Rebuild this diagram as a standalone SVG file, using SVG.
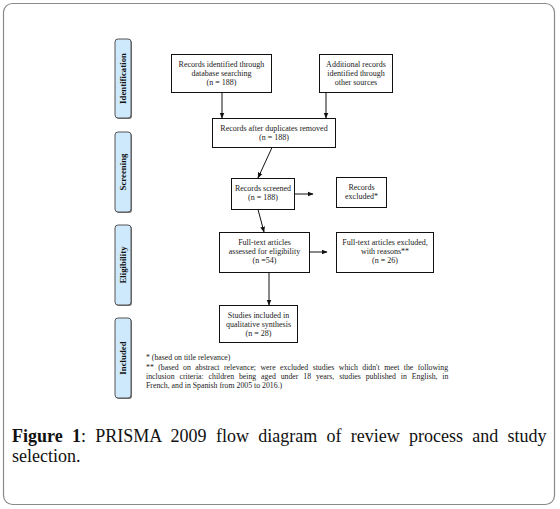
<svg xmlns="http://www.w3.org/2000/svg" width="560" height="509" viewBox="0 0 560 509">
<style>
.frame{fill:#fff;stroke:#8a8a8a;stroke-width:1.2}
.stage{fill:#cfe9fc;stroke:#555;stroke-width:1}
.stxt{font-family:"Liberation Serif",serif;font-size:8.8px;font-weight:bold;fill:#111;text-anchor:middle}
.box{fill:#fff;stroke:#111;stroke-width:1}
.t{font-family:"Liberation Serif",serif;font-size:8px;fill:#222;text-anchor:middle}
.fn{font-family:"Liberation Serif",serif;font-size:7.8px;fill:#222}
.cap{font-family:"Liberation Serif",serif;font-size:18px;fill:#111}
.c{stroke:#111;stroke-width:1;fill:none;marker-end:url(#ah)}
</style>
<defs>
<marker id="ah" viewBox="0 0 10 10" refX="9" refY="5" markerWidth="6" markerHeight="6" orient="auto" markerUnits="userSpaceOnUse">
<path d="M0,1 L10,5 L0,9 z" fill="#111"/>
</marker>
</defs>
<rect class="frame" x="3.5" y="3.5" width="551" height="501" rx="9"/>
<g id="stage-identification">
<rect x="116" y="40" width="16" height="79" rx="3" fill="#777"/>
<rect class="stage" x="115" y="39" width="16" height="79" rx="3"/>
<text class="stxt" transform="translate(126,78.5) rotate(-90)">Identification</text>
</g>
<g id="stage-screening">
<rect x="116" y="133" width="16" height="80" rx="3" fill="#777"/>
<rect class="stage" x="115" y="132" width="16" height="80" rx="3"/>
<text class="stxt" transform="translate(126,172) rotate(-90)">Screening</text>
</g>
<g id="stage-eligibility">
<rect x="116" y="226" width="16" height="80" rx="3" fill="#777"/>
<rect class="stage" x="115" y="225" width="16" height="80" rx="3"/>
<text class="stxt" transform="translate(126,265) rotate(-90)">Eligibility</text>
</g>
<g id="stage-included">
<rect x="116" y="319" width="16" height="80" rx="3" fill="#777"/>
<rect class="stage" x="115" y="318" width="16" height="80" rx="3"/>
<text class="stxt" transform="translate(126,358) rotate(-90)">Included</text>
</g>
<g id="n-identified">
<rect class="box" x="171.5" y="54.5" width="100" height="38"/>
<text class="t" x="221.5" y="67">Records identified through</text>
<text class="t" x="221.5" y="76">database searching</text>
<text class="t" x="221.5" y="85">(n = 188)</text>
</g>
<g id="n-additional">
<rect class="box" x="319.5" y="54.5" width="73" height="38"/>
<text class="t" x="356" y="67">Additional records</text>
<text class="t" x="356" y="76">identified through</text>
<text class="t" x="356" y="85">other sources</text>
</g>
<g id="n-duplicates">
<rect class="box" x="212.5" y="118.5" width="123" height="29"/>
<text class="t" x="274" y="131">Records after duplicates removed</text>
<text class="t" x="274" y="140">(n = 188)</text>
</g>
<g id="n-screened">
<rect class="box" x="231.5" y="178.5" width="63" height="31"/>
<text class="t" x="263" y="191">Records screened</text>
<text class="t" x="263" y="200">(n = 188)</text>
</g>
<g id="n-excluded">
<rect class="box" x="336.5" y="177.5" width="50" height="30"/>
<text class="t" x="361.5" y="190">Records</text>
<text class="t" x="361.5" y="199">excluded*</text>
</g>
<g id="n-fulltext">
<rect class="box" x="219.5" y="232.5" width="90" height="40"/>
<text class="t" x="264.5" y="245">Full-text articles</text>
<text class="t" x="264.5" y="254">assessed for eligibility</text>
<text class="t" x="264.5" y="263">(n =54)</text>
</g>
<g id="n-ftexcluded">
<rect class="box" x="336.5" y="232.5" width="97" height="40"/>
<text class="t" x="385" y="245">Full-text articles excluded,</text>
<text class="t" x="385" y="254">with reasons**</text>
<text class="t" x="385" y="263">(n = 26)</text>
</g>
<g id="n-included">
<rect class="box" x="219.5" y="305.5" width="78" height="37"/>
<text class="t" x="258.5" y="318">Studies included in</text>
<text class="t" x="258.5" y="327">qualitative synthesis</text>
<text class="t" x="258.5" y="336">(n = 28)</text>
</g>
<g id="connectors">
<line class="c" x1="222" y1="92.5" x2="222" y2="118"/>
<line class="c" x1="326" y1="92.5" x2="326" y2="118"/>
<line class="c" x1="272" y1="147.5" x2="258" y2="178"/>
<line class="c" x1="294.5" y1="194" x2="313" y2="194"/>
<line class="c" x1="258" y1="209.5" x2="264" y2="232"/>
<line class="c" x1="309.5" y1="252" x2="327" y2="252"/>
<line class="c" x1="269" y1="272.5" x2="269" y2="305"/>
</g>
<g id="footnotes">
<text class="fn" x="146" y="360">* (based on title relevance)</text>
<text class="fn" x="146" y="370" word-spacing="2.5">** (based on abstract relevance; were excluded studies which didn't meet the following</text>
<text class="fn" x="146" y="379" word-spacing="2.9">inclusion criteria: children being aged under 18 years, studies published in English, in</text>
<text class="fn" x="146" y="388">French, and in Spanish from 2005 to 2016.)</text>
</g>
<g id="caption">
<text class="cap" x="12" y="442" word-spacing="4.8"><tspan font-weight="bold">Figure 1</tspan>: PRISMA 2009 flow diagram of review process and study</text>
<text class="cap" x="12" y="462">selection.</text>
</g>
</svg>
